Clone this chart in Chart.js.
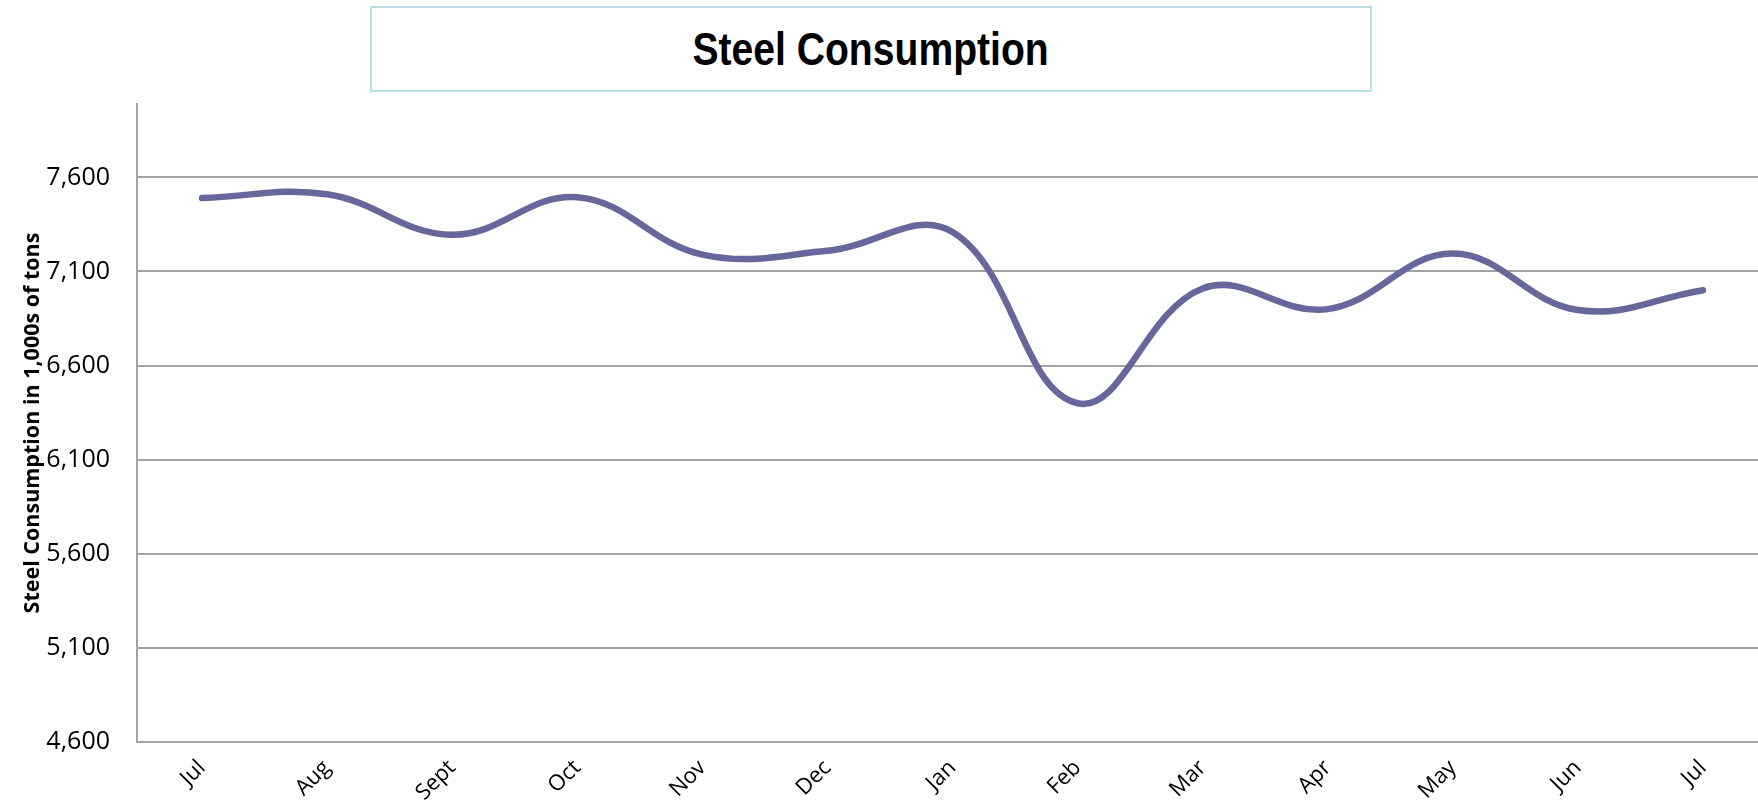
<!DOCTYPE html>
<html>
<head>
<meta charset="utf-8">
<script src="https://cdn.jsdelivr.net/npm/chart.js@4.4.0/dist/chart.umd.min.js"></script>
<style>
  html, body { margin: 0; padding: 0; background: #fff; overflow: hidden; }
  #wrap { position: relative; width: 1758px; height: 812px; }
  #titleBox {
    position: absolute; left: 370px; top: 6px; width: 998px; height: 82px;
    border: 2px solid #b9dfe2; background: #fff;
    display: flex; align-items: center; justify-content: center;
  }
  #titleBox span {
    display: inline-block;
    font-family: "Liberation Sans", Arial, sans-serif;
    font-weight: bold; font-size: 46px; color: #000;
    transform: scaleX(0.85);
  }
</style>
</head>
<body>
<div id="wrap">
  <canvas id="myChart" width="1758" height="812"></canvas>
  <div id="titleBox"><span>Steel Consumption</span></div>
</div>
<script>
// months
const months = ['Jul', 'Aug', 'Sept', 'Oct', 'Nov', 'Dec', 'Jan', 'Feb', 'Mar', 'Apr', 'May', 'Jun', 'Jul'];

// steel consumption, 1,000s of tons
const consumption = [7490, 7510, 7295, 7495, 7190, 7210, 7310, 6400, 7010, 6900, 7195, 6895, 7000];

// y tick values
const yTicks = [4600, 5100, 5600, 6100, 6600, 7100, 7600];

const ctx = document.getElementById('myChart').getContext('2d');

const points = consumption.map((v, i) => ({ x: i, y: v }));

const data = {
  datasets: [
    {
      label: 'Steel Consumption',
      data: points,
      borderColor: 'rgb(103, 103, 155)',
      borderWidth: 6.5,
      borderCapStyle: 'round',
      tension: 0.4,
      pointRadius: 0,
      fill: false,
    },
  ],
};

const options = {
  responsive: false,
  animation: false,
  layout: { padding: { left: 0, right: 0, top: 104, bottom: 0 } },
  plugins: {
    legend: { display: false },
    tooltip: { enabled: false },
  },
  scales: {
    x: {
      type: 'linear',
      min: -0.52,
      max: 12.44,
      grid: { display: false, drawTicks: false },
      border: { display: false },
      afterBuildTicks: (scale) => {
        scale.ticks = months.map((m, i) => ({ value: i }));
      },
      afterFit: (scale) => {
        scale.height = 70;
      },
      ticks: {
        autoSkip: false,
        minRotation: 45,
        maxRotation: 45,
        padding: 13,
        color: '#000',
        font: { family: 'Open Sans', size: 22 },
        callback: (value) => months[value],
      },
    },
    y: {
      min: 4600,
      max: 7990,
      afterBuildTicks: (scale) => {
        scale.ticks = yTicks.map((v) => ({ value: v }));
      },
      afterFit: (scale) => {
        scale.width = 137;
      },
      grid: { color: '#a3a3a3', lineWidth: 2, drawTicks: false },
      border: { color: '#a3a3a3', width: 2 },
      ticks: {
        padding: 27,
        color: '#000',
        font: { family: 'Open Sans', size: 25 },
        callback: (value) => value.toLocaleString('en-US'),
      },
      title: {
        display: true,
        text: 'Steel Consumption in 1,000s of tons',
        color: '#000',
        padding: { top: 20, bottom: 0 },
        font: { family: 'Open Sans', size: 21.5, weight: 'bold' },
      },
    },
  },
};

const config = {
  type: 'line',
  data,
  options,
};

const myChart = new Chart(ctx, config);
</script>
</body>
</html>
